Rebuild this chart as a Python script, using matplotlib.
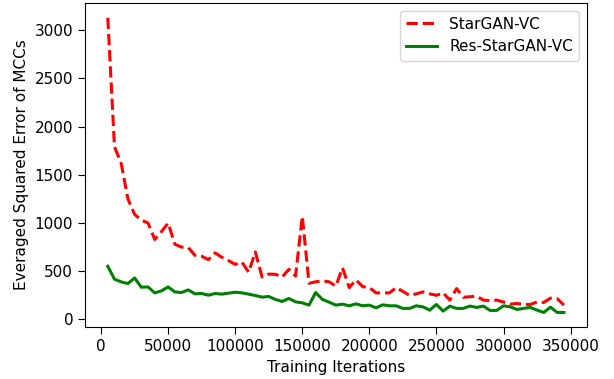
import matplotlib
matplotlib.use("Agg")
import matplotlib.pyplot as plt

plt.rcParams['font.size'] = 11

iterations = list(range(5000, 345001, 5000))

stargan_vc = [3130, 1790, 1620, 1250, 1090, 1030, 1000, 830, 910, 1000,
              780, 750, 745, 665, 655, 620, 690, 645, 610, 570,
              595, 490, 700, 440, 470, 468, 440, 520, 450, 1070,
              375, 390, 400, 390, 345, 535, 330, 410, 340, 330,
              275, 275, 275, 330, 290, 250, 265, 285, 265, 250,
              275, 200, 320, 230, 235, 240, 200, 195, 200, 180,
              158, 165, 155, 155, 180, 176, 220, 215, 148]

res_stargan_vc = [551, 417, 389, 372, 430, 334, 337, 275, 296, 337,
                  285, 279, 306, 265, 269, 251, 269, 262, 272, 282,
                  275, 262, 248, 231, 238, 207, 186, 217, 182, 172,
                  148, 279, 207, 179, 148, 158, 141, 161, 141, 148,
                  120, 151, 141, 141, 114, 114, 141, 130, 96, 155,
                  86, 138, 114, 114, 138, 124, 138, 93, 93, 141,
                  130, 103, 114, 124, 96, 72, 127, 72, 72]

fig = plt.figure(figsize=(6.14, 3.79), dpi=100)
ax = fig.add_axes([0.1384, 0.1367, 0.9555 - 0.1384, 0.992 - 0.1367])
ax.plot(iterations, stargan_vc, 'r--', linewidth=2.2, label='StarGAN-VC')
ax.plot(iterations, res_stargan_vc, 'g-', linewidth=2.2, label='Res-StarGAN-VC')
ax.set_xlabel('Training Iterations')
ax.set_ylabel('Everaged Squared Error of MCCs')
ax.tick_params(length=5)
ax.legend(loc='upper right')
fig.savefig('out.png', dpi=100)
